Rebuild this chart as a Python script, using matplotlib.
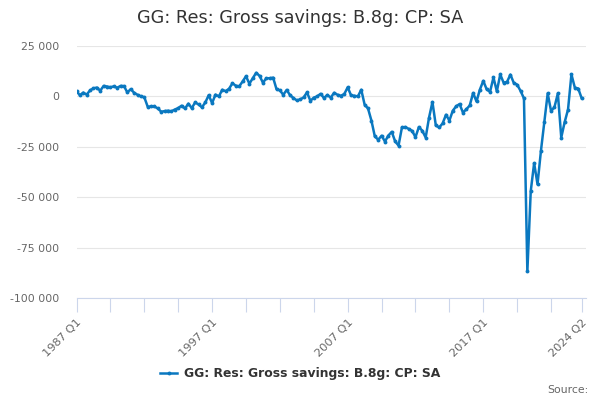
import matplotlib
matplotlib.use("Agg")
import matplotlib.pyplot as plt
from matplotlib.lines import Line2D
import numpy as np

title = "GG: Res: Gross savings: B.8g: CP: SA"
series_name = "GG: Res: Gross savings: B.8g: CP: SA"

# Quarterly values, 1987 Q1 .. 2024 Q2 (thousands)
values_k = [
    2.5, 0.6, 1.9, 0.9, 3.0, 4.0, 4.4, 2.8, 5.2, 4.9,
    4.5, 5.0, 4.3, 5.2, 5.1, 2.0, 3.6, 1.8, 0.8, 0.0,
    -0.4, -5.1, -5.0, -5.0, -6.0, -7.6, -7.3, -7.1, -7.4, -6.5,
    -5.8, -4.6, -6.0, -3.6, -5.8, -3.0, -4.0, -5.4, -3.0, 0.6,
    -3.3, 0.9, 0.0, 3.3, 2.6, 3.8, 6.5, 5.3, 5.0, 7.4,
    10.0, 6.3, 9.0, 11.7, 10.2, 6.8, 9.0, 9.0, 9.3, 3.6,
    3.0, 0.8, 3.2, 0.6, -0.8, -2.0, -1.5, -0.5, 2.0, -2.2,
    -0.6, 0.0, 1.3, -0.8, 0.7, -0.6, 1.8, 0.8, 0.3, 1.2,
    4.5, 0.5, 0.3, 0.0, 3.3, -4.1, -6.0, -12.0, -19.8, -21.5,
    -19.5, -22.4, -19.4, -17.6, -22.3, -24.4, -15.4, -15.2, -16.1, -17.1,
    -20.2, -15.2, -17.0, -20.4, -10.5, -2.8, -14.4, -15.4, -13.4, -9.1,
    -12.0, -7.1, -4.9, -3.8, -8.0, -6.4, -4.5, 1.7, -2.5, 3.4,
    7.7, 3.5, 2.3, 9.4, 2.5, 10.9, 6.8, 7.2, 10.8, 6.7,
    5.8, 2.7, -1.0, -86.8, -47.0, -33.1, -43.6, -27.1, -12.9, 1.5,
    -7.3, -5.3, 1.5, -20.4, -12.8, -6.5, 10.9, 4.4, 3.9, -0.8,
]
values = [v * 1000 for v in values_k]

start_year = 1987
quarters = [f"{start_year + i // 4} Q{i % 4 + 1}" for i in range(len(values))]

y_ticks = [25000, 0, -25000, -50000, -75000, -100000]
x_label_positions = [0, 40, 80, 120, len(values) - 1]

line_color = "#0a78c0"

fig = plt.figure(figsize=(6, 4), dpi=100)
ax = fig.add_axes([76.5 / 600, 1 - 298 / 400, (586 - 76.5) / 600, (298 - 46) / 400])

x = np.arange(len(values))
ax.plot(x, values, color=line_color, lw=1.8, marker="o", ms=2.8,
        markeredgewidth=0, zorder=3, solid_joinstyle="round")

ax.set_ylim(-100000, 25000)
ax.set_xlim(0, 150.3)
ax.set_yticks(y_ticks)
ax.set_yticklabels([f"{v:,}".replace(",", " ") for v in y_ticks],
                   fontsize=7.8, color="#666666")
ax.grid(axis="y", color="#e6e6e6", lw=0.8)
ax.set_axisbelow(True)

minor = list(range(0, 141, 10)) + [len(values) - 1]
ax.set_xticks(minor, minor=True)
ax.set_xticks(x_label_positions)
ax.set_xticklabels([quarters[i] for i in x_label_positions], rotation=45,
                   ha="right", va="top", rotation_mode="anchor",
                   fontsize=8.2, color="#666666")
ax.tick_params(axis="x", which="both", length=10, color="#ccd6eb", width=0.8, pad=4)
ax.tick_params(axis="y", length=0, pad=12.5)

for s in ["top", "right", "left"]:
    ax.spines[s].set_visible(False)
ax.spines["bottom"].set_color("#ccd6eb")
ax.spines["bottom"].set_linewidth(0.8)

fig.text(0.5, 1 - 18 / 400, title, ha="center", va="center",
         fontsize=12.7, color="#333333")

handle = Line2D([], [], color=line_color, lw=1.8, marker="o", ms=2.8,
                markeredgewidth=0)
fig.legend([handle], [series_name], loc="center", bbox_to_anchor=(0.5, 1 - 374 / 400),
           frameon=False, prop={"size": 8.9, "weight": "bold"},
           handlelength=1.4, handletextpad=0.5, labelcolor="#333333")

fig.text(589 / 600, 1 - 390 / 400, "Source:", ha="right", va="center",
         fontsize=7.8, color="#666666")

fig.savefig("out.png", dpi=100)
